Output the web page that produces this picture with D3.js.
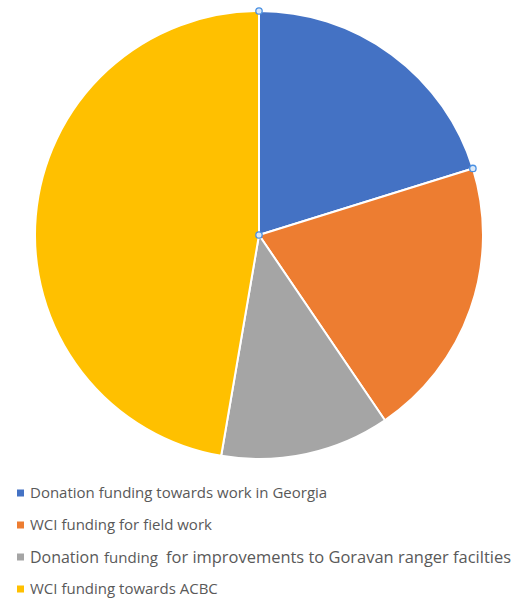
<!DOCTYPE html>
<html><head><meta charset="utf-8">
<script src="https://cdn.jsdelivr.net/npm/d3@7"></script>
<style>html,body{margin:0;padding:0;background:#fff;}</style>
</head><body>
<svg id="chart" width="522" height="601"></svg>
<script>
const categories = [
  "Donation funding towards work in Georgia",
  "WCI funding for field work",
  "Donation funding  for improvements to Goravan ranger facilties",
  "WCI funding towards ACBC"
];
const values = [20.2, 20.3, 12.2, 47.3];
const colors = ["#4472C4", "#ED7D31", "#A5A5A5", "#FFC000"];

const svg = d3.select("#chart");
const cx = 259, cy = 235, r = 224;
const pie = d3.pie().sort(null).value(d => d)(values);
const arc = d3.arc().innerRadius(0).outerRadius(r);
const g = svg.append("g").attr("transform", `translate(${cx},${cy})`);
g.selectAll("path").data(pie).join("path")
  .attr("d", arc)
  .attr("fill", (d, i) => colors[i])
  .attr("stroke", "#fff").attr("stroke-width", 2).attr("stroke-linejoin", "round");

// selection handles on first slice
const s = pie[0];
const pts = [[0, 0], [r * Math.sin(s.startAngle), -r * Math.cos(s.startAngle)], [r * Math.sin(s.endAngle), -r * Math.cos(s.endAngle)]];
g.selectAll("circle.h").data(pts).join("circle")
  .attr("class", "h").attr("cx", d => d[0]).attr("cy", d => d[1]).attr("r", 3.2)
  .attr("fill", "#dbe8f7").attr("stroke", "#4a90e2").attr("stroke-width", 1.3);

const leg = svg.append("g");
const items = leg.selectAll("g").data(categories).join("g")
  .attr("transform", (d, i) => `translate(17,${493 + i * 32})`);
items.append("rect").attr("x", 0).attr("y", -3.5).attr("width", 7).attr("height", 7)
  .attr("fill", (d, i) => colors[i]);
items.each(function (d, i) {
  const t = d3.select(this).append("text").attr("y", 0).attr("dy", "0.35em")
    .attr("font-family", "'Open Sans', sans-serif").attr("fill", "#595959");
  if (i !== 2) {
    t.attr("x", 13).attr("font-size", 15).attr("font-weight", 500).text(d);
  } else {
    const words = d.split(/\s+/);
    t.append("tspan").attr("x", 13).attr("font-size", 15.5).attr("font-weight", 500)
      .attr("textLength", 69).attr("lengthAdjust", "spacingAndGlyphs").text(words[0]);
    t.append("tspan").attr("x", 87).attr("font-size", 14.5).attr("font-weight", 400)
      .attr("textLength", 54).attr("lengthAdjust", "spacingAndGlyphs").text(words[1]);
    t.append("tspan").attr("x", 149).attr("font-size", 15.5).attr("font-weight", 500)
      .attr("textLength", 345).attr("lengthAdjust", "spacingAndGlyphs").text(words.slice(2).join(" "));
  }
});
</script>
</body></html>
